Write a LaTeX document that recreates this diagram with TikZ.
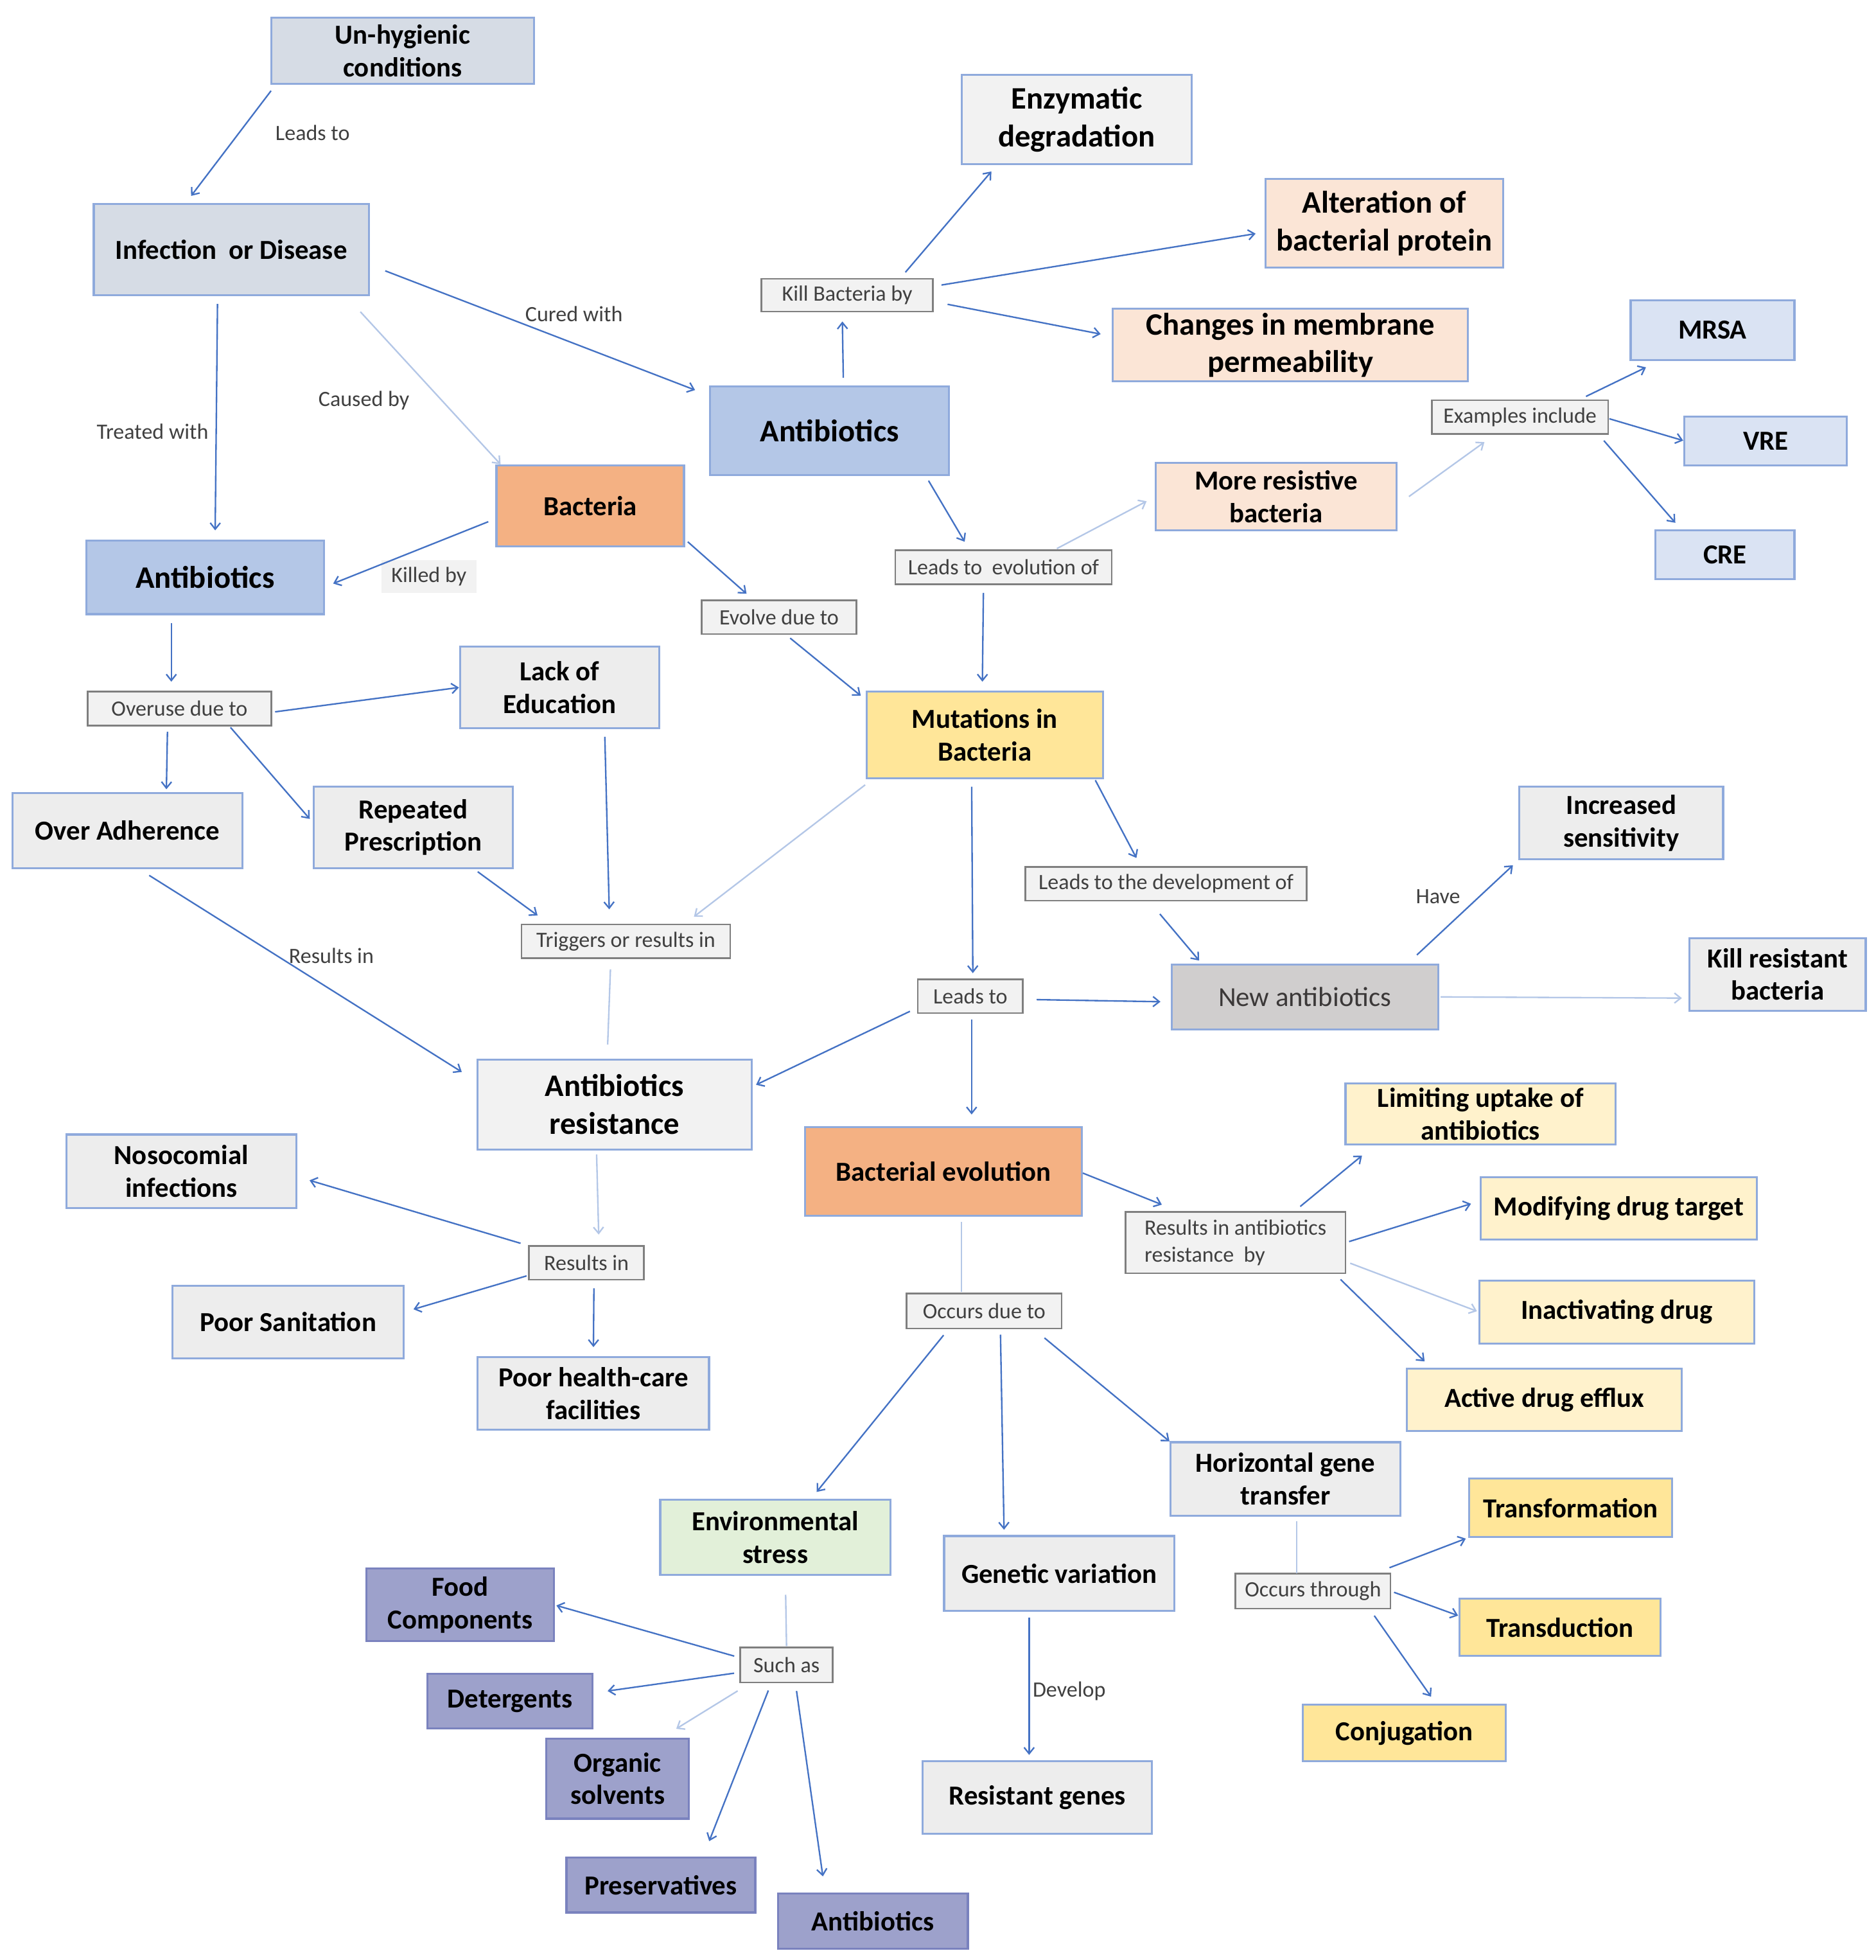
\documentclass[tikz,border=0pt]{standalone}
\usepackage{fontspec}
\setmainfont{Carlito}
\usetikzlibrary{arrows.meta}
\definecolor{edgeblue}{RGB}{143,170,220}
\definecolor{arrowblue}{RGB}{68,114,196}
\definecolor{paleblue}{RGB}{180,199,231}
\definecolor{slate}{RGB}{214,220,229}
\definecolor{abblue}{RGB}{180,199,231}
\definecolor{iceblue}{RGB}{218,227,243}
\definecolor{boxgray}{RGB}{237,237,237}
\definecolor{offwhite}{RGB}{242,242,242}
\definecolor{peach}{RGB}{251,229,214}
\definecolor{apricot}{RGB}{244,177,131}
\definecolor{butter}{RGB}{255,230,153}
\definecolor{cream}{RGB}{255,242,204}
\definecolor{stone}{RGB}{208,206,206}
\definecolor{mint}{RGB}{226,240,217}
\definecolor{lavender}{RGB}{157,161,203}
\definecolor{lavedge}{RGB}{122,130,190}
\definecolor{tagedge}{RGB}{127,127,127}
\definecolor{tagtext}{RGB}{64,64,64}
\begin{document}
\begin{tikzpicture}[x=1pt,y=-1pt,inner sep=0pt,outer sep=0pt,
sz/.style 2 args={minimum width=#1pt,minimum height=#2pt},
box/.style={draw=edgeblue,line width=1.6pt,rectangle,align=center,fill=boxgray,font=\fontsize{22}{26}\selectfont\bfseries},
bigbox/.style={box,font=\fontsize{25}{30}\selectfont\bfseries},
tagbox/.style={draw=tagedge,fill=offwhite,line width=1.3pt,rectangle,align=center,text=tagtext,font=\fontsize{17.5}{22}\selectfont},
lbl/.style={text=tagtext,font=\fontsize{17.5}{21}\selectfont},
arr/.style={draw=arrowblue,line width=1.2pt,-{Straight Barb[length=5pt,width=8pt]},shorten <=7pt,shorten >=8pt},
farr/.style={arr,draw=paleblue},
fline/.style={draw=paleblue,line width=1.2pt}]
\useasboundingbox (0,0) rectangle (1500,1567);

% upper part
\draw (322,40.5) node[box,fill=slate,sz={210}{53}] (unhyg) {Un-hygienic\\conditions};
\draw (185,199.5) node[box,fill=slate,sz={220}{73}] (infect) {Infection\ \ or Disease};
\draw (663.5,344.5) node[bigbox,fill=abblue,sz={191}{71}] (abtop) {Antibiotics};
\draw (164,461.5) node[bigbox,fill=abblue,sz={190}{59}] (ableft) {Antibiotics};
\draw (472,404.5) node[box,fill=apricot,sz={150}{65}] (bact) {Bacteria};
\draw (861,95.5) node[bigbox,fill=offwhite,sz={184}{71}] (enzym) {Enzymatic\\degradation};
\draw (1107,178.5) node[bigbox,fill=peach,sz={190}{71}] (alter) {Alteration of\\bacterial protein};
\draw (1032,276) node[bigbox,fill=peach,sz={284}{58}] (changes) {Changes in membrane\\permeability};
\draw (677.5,236) node[tagbox,sz={137}{26}] (killby) {Kill Bacteria by};
\draw (1020.5,397) node[box,fill=peach,sz={193}{54}] (moreres) {More resistive\\bacteria};
\draw (1215.5,333.5) node[tagbox,sz={141}{27}] (examples) {Examples include};
\draw (1369.5,264) node[box,fill=iceblue,sz={131}{48}] (mrsa) {MRSA};
\draw (1412,352.5) node[box,fill=iceblue,sz={130}{39}] (vre) {VRE};
\draw (1379.5,443.5) node[box,fill=iceblue,sz={111}{39}] (cre) {CRE};
\draw (802.5,453.5) node[tagbox,sz={173}{27}] (leadsevol) {Leads to\ \ evolution of};
\draw (623,493.5) node[tagbox,sz={124}{27}] (evolve) {Evolve due to};

% middle part
\draw (143.5,566.5) node[tagbox,sz={147}{27}] (overuse) {Overuse due to};
\draw (447.5,549.5) node[box,sz={159}{65}] (lack) {Lack of\\Education};
\draw (787.5,587.5) node[box,fill=butter,sz={189}{69}] (mutat) {Mutations in\\Bacteria};
\draw (102,664) node[box,sz={184}{60}] (overadh) {Over Adherence};
\draw (330.5,661.5) node[box,sz={159}{65}] (repeat) {Repeated\\Prescription};
\draw (1296.5,658) node[box,sz={163}{58}] (incsens) {Increased\\sensitivity};
\draw (932.5,706.5) node[tagbox,sz={225}{27}] (leadsdev) {Leads to the development of};
\draw (500.5,752.5) node[tagbox,sz={167}{27}] (triggers) {Triggers or results in};
\draw (1043.5,797) node[box,fill=stone,sz={213}{52},font=\fontsize{22}{26}\selectfont,text={rgb,255:red,59;green,56;blue,56}] (newab) {New antibiotics};
\draw (1421.5,779) node[box,sz={141}{58}] (killres) {Kill resistant\\bacteria};
\draw (776,796.5) node[tagbox,sz={84}{27}] (leadsto) {Leads to};
\draw (491.5,883) node[bigbox,fill=offwhite,sz={219}{72}] (abres) {Antibiotics\\resistance};
\draw (754.5,936.5) node[box,fill=apricot,sz={221}{71}] (bactevol) {Bacterial evolution};
\draw (1184,890.5) node[box,fill=cream,sz={216}{49}] (limit) {Limiting uptake of\\antibiotics};
\draw (145,936.5) node[box,sz={184}{59}] (nosoc) {Nosocomial\\infections};
\draw (988,993.5) node[tagbox,align=left,sz={176}{49}] (resultsby) {Results in antibiotics\\resistance\ \ by};
\draw (1294.5,966) node[box,fill=cream,sz={221}{50}] (modif) {Modifying drug target};
\draw (469,1009.5) node[tagbox,sz={92}{27}] (resultsin) {Results in};
\draw (1293,1049) node[box,fill=cream,sz={220}{50}] (inact) {Inactivating drug};
\draw (230.5,1057) node[box,sz={185}{58}] (poorsan) {Poor Sanitation};
\draw (787,1048) node[tagbox,sz={124}{28}] (occdue) {Occurs due to};
\draw (1235,1119) node[box,fill=cream,sz={220}{50}] (efflux) {Active drug efflux};
\draw (474.5,1114) node[box,sz={185}{58}] (poorhc) {Poor health-care\\facilities};

% lower part
\draw (1028,1182.5) node[box,sz={184}{59}] (horiz) {Horizontal gene\\transfer};
\draw (1256,1205.5) node[box,fill=butter,sz={162}{47}] (transf) {Transformation};
\draw (620,1229) node[box,fill=mint,sz={184}{60}] (envst) {Environmental\\stress};
\draw (847,1258) node[box,sz={184}{60}] (genvar) {Genetic variation};
\draw (1050,1272) node[tagbox,sz={124}{28}] (occthr) {Occurs through};
\draw (1247.5,1301) node[box,fill=butter,sz={161}{46}] (transd) {Transduction};
\draw (368,1283) node[box,fill=lavender,draw=lavedge,sz={150}{58}] (food) {Food\\Components};
\draw (629,1331) node[tagbox,sz={74}{28}] (suchas) {Such as};
\draw (408,1360) node[box,fill=lavender,draw=lavedge,sz={132}{44}] (deterg) {Detergents};
\draw (1123,1385.5) node[box,fill=butter,sz={162}{45}] (conjug) {Conjugation};
\draw (494,1422) node[box,fill=lavender,draw=lavedge,sz={114}{64}] (organic) {Organic\\solvents};
\draw (829.5,1437) node[box,sz={183}{58}] (resgen) {Resistant genes};
\draw (528.5,1507) node[box,fill=lavender,draw=lavedge,sz={151}{44}] (preserv) {Preservatives};
\draw (698,1536) node[box,fill=lavender,draw=lavedge,sz={152}{44}] (abbot) {Antibiotics};

% free labels
\draw (250,106) node[lbl] (lbleads) {Leads to};
\draw (459,251) node[lbl] (lblcured) {Cured with};
\draw (291,320) node[lbl] (lblcaused) {Caused by};
\draw (122,345) node[lbl] (lbltreated) {Treated with};
\draw (343,461) node[lbl,fill=offwhite,sz={76}{26}] (lblkilled) {Killed by};
\draw (265,764) node[lbl] (lblresults) {Results in};
\draw (1150,717) node[lbl] (lblhave) {Have};
\draw (855,1352) node[lbl] (lbldevelop) {Develop};

% connectors
\draw[arr] ([xshift=4pt]unhyg.south west) -- ([xshift=-37pt]infect.north);
\draw[arr,shorten <=14pt,shorten >=13pt] ([yshift=-12pt]infect.east) -- ([yshift=28pt]abtop.west);
\draw[farr,shorten <=18pt,shorten >=1pt] ([xshift=-19pt]infect.south east) -- ([xshift=4pt]bact.north west);
\draw[arr] ([xshift=-11pt]infect.south) -- ([xshift=8pt]ableft.north);
\draw[arr] ([yshift=-10pt]bact.west) -- ([yshift=-8pt]ableft.east);
\draw[arr] ([xshift=11pt]abtop.north) -- ([xshift=-4pt]killby.south);
\draw[arr] ([xshift=42pt]killby.north) -- ([xshift=29pt]enzym.south west);
\draw[arr] ([yshift=7pt]killby.east) -- ([yshift=-7pt]alter.west);
\draw[arr,shorten <=12pt,shorten >=10pt] ([yshift=-5pt]killby.east) -- ([yshift=7pt]changes.west);
\draw[arr,shorten <=5pt] ([xshift=-19pt]abtop.south east) -- ([xshift=-27pt]leadsevol.north);
\draw[farr,shorten <=3pt] ([xshift=40pt]leadsevol.north) -- (moreres.west);
\draw[farr,shorten <=12pt,shorten >=11pt] ([yshift=-7pt]moreres.east) -- ([xshift=51pt]examples.south west);
\draw[arr,shorten >=13pt] ([xshift=-24pt]examples.north east) -- ([xshift=24pt]mrsa.south west);
\draw[arr,shorten <=1pt,shorten >=1pt] ([yshift=-1pt]examples.east) -- (vre.west);
\draw[arr] ([xshift=-8pt]examples.south east) -- ([xshift=21pt]cre.north west);
\draw[arr] ([xshift=-16pt]leadsevol.south) -- ([xshift=-2pt]mutat.north);
\draw[arr,shorten <=4pt] ([yshift=-26pt]bact.east) -- ([xshift=-20pt]evolve.north);
\draw[arr,shorten <=5pt,shorten >=6pt] ([xshift=5pt]evolve.south) -- ([yshift=-7pt]mutat.north west);
\draw[arr] ([xshift=-27pt]ableft.south) -- ([xshift=-6.5pt]overuse.north);
\draw[arr,shorten <=3pt,shorten >=1pt] ([yshift=-3pt]overuse.east) -- (lack.west);
\draw[arr,shorten <=5pt,shorten >=3pt] ([xshift=-9.5pt]overuse.south) -- ([xshift=31pt]overadh.north);
\draw[arr,shorten <=2pt,shorten >=5pt] ([xshift=39.5pt]overuse.south) -- ([yshift=3pt]repeat.west);
\draw[arr,shorten >=12pt] ([xshift=36pt]lack.south) -- ([xshift=-13pt]triggers.north);
\draw[arr,shorten <=5pt,shorten >=12pt] ([xshift=-32pt]repeat.south east) -- ([xshift=22.6pt]triggers.north west);
\draw[farr,shorten <=9pt,shorten >=10pt] ([xshift=6pt]mutat.south west) -- ([xshift=-37pt]triggers.north east);
\draw[fline,shorten <=9pt,shorten >=12pt] ([xshift=-12pt]triggers.south) -- ([xshift=-6pt]abres.north);
\draw[arr,shorten <=11pt,shorten >=15pt] ([xshift=8pt]overadh.south) -- ([yshift=18pt]abres.west);
\draw[arr,shorten >=5pt] ([xshift=-10.5pt]mutat.south) -- ([xshift=2pt]leadsto.north);
\draw[arr,shorten <=2pt] ([xshift=-7pt]mutat.south east) -- ([xshift=-20pt]leadsdev.north);
\draw[arr,shorten <=14pt,shorten >=4pt] ([xshift=-14pt]leadsdev.south) -- ([xshift=24.5pt]newab.north west);
\draw[arr,shorten <=11pt,shorten >=9pt] ([yshift=-2.5pt]leadsto.east) -- ([yshift=-4pt]newab.west);
\draw[arr,shorten <=11pt,shorten >=7pt] ([xshift=-25pt]newab.north east) -- (incsens.south west);
\draw[farr,shorten <=2pt,shorten >=6pt] (newab.east) -- ([yshift=-19pt]killres.west);
\draw[arr,shorten >=4pt] ([yshift=-9pt]leadsto.west) -- ([yshift=14pt]abres.east);
\draw[arr,shorten <=5pt,shorten >=10pt] ([xshift=1pt]leadsto.south) -- ([xshift=22.5pt]bactevol.north);
\draw[farr,shorten <=4pt,shorten >=9pt] ([xshift=-14.5pt]abres.south) -- ([xshift=10pt]resultsin.north);
\draw[arr,shorten >=11pt] (resultsin.north west) -- ([yshift=-4pt]nosoc.east);
\draw[arr,shorten <=2pt] ([yshift=-10pt]resultsin.west) -- ([yshift=8pt]poorsan.east);
\draw[arr] ([xshift=6pt]resultsin.south) -- (poorhc.north);
\draw[arr,shorten <=1pt,shorten >=16pt] ([yshift=-1pt]bactevol.east) -- ([xshift=44pt]resultsby.north west);
\draw[arr,shorten >=14pt] ([xshift=-41.6pt]resultsby.north east) -- ([xshift=24pt]limit.south west);
\draw[arr,shorten <=3pt] (resultsby.east) -- ([yshift=6pt]modif.west);
\draw[farr,shorten <=4pt,shorten >=2pt] ([yshift=-15pt]resultsby.east) -- (inact.west);
\draw[arr] ([xshift=-9pt]resultsby.south east) -- ([xshift=20pt]efflux.north west);
\draw[fline,shorten <=5pt,shorten >=1pt] ([xshift=14.5pt]bactevol.south) -- ([xshift=-18pt]occdue.north);
\draw[arr] ([xshift=-28pt]occdue.south) -- ([xshift=28pt]envst.north);
\draw[arr,shorten <=5pt,shorten >=5pt] ([xshift=13pt]occdue.south) -- ([xshift=-44pt]genvar.north);
\draw[arr,shorten <=12pt,shorten >=1pt] ([xshift=-23pt]occdue.south east) -- (horiz.north west);
\draw[fline,shorten <=4pt] ([xshift=9pt]horiz.south) -- ([xshift=-13pt]occthr.north);
\draw[arr,shorten <=13pt,shorten >=3pt] ([xshift=-13pt]occthr.north east) -- (transf.south west);
\draw[arr,shorten <=3pt,shorten >=1pt] (occthr.east) -- ([yshift=9pt]transd.west);
\draw[arr] ([xshift=-17pt]occthr.south east) -- ([xshift=26pt]conjug.north);
\draw[arr,shorten <=5pt,shorten >=5pt] ([xshift=-24pt]genvar.south) -- ([xshift=-6.5pt]resgen.north);
\draw[fline,shorten <=16pt,shorten >=1pt] ([xshift=8pt]envst.south) -- (suchas.north);
\draw[arr,shorten <=5pt,shorten >=2pt] ([yshift=5.6pt]suchas.west) -- (food.east);
\draw[arr,shorten <=5pt,shorten >=12pt] ([yshift=-6pt]suchas.west) -- ([yshift=6.4pt]deterg.east);
\draw[farr,shorten <=13pt,shorten >=15pt] ([xshift=9pt]suchas.south west) -- ([xshift=-23pt]organic.north east);
\draw[arr,shorten >=14pt] ([xshift=-12pt]suchas.south) -- ([xshift=33.5pt]preserv.north);
\draw[arr,shorten >=14pt] ([xshift=7pt]suchas.south) -- ([xshift=38pt]abbot.north west);
\end{tikzpicture}
\end{document}
